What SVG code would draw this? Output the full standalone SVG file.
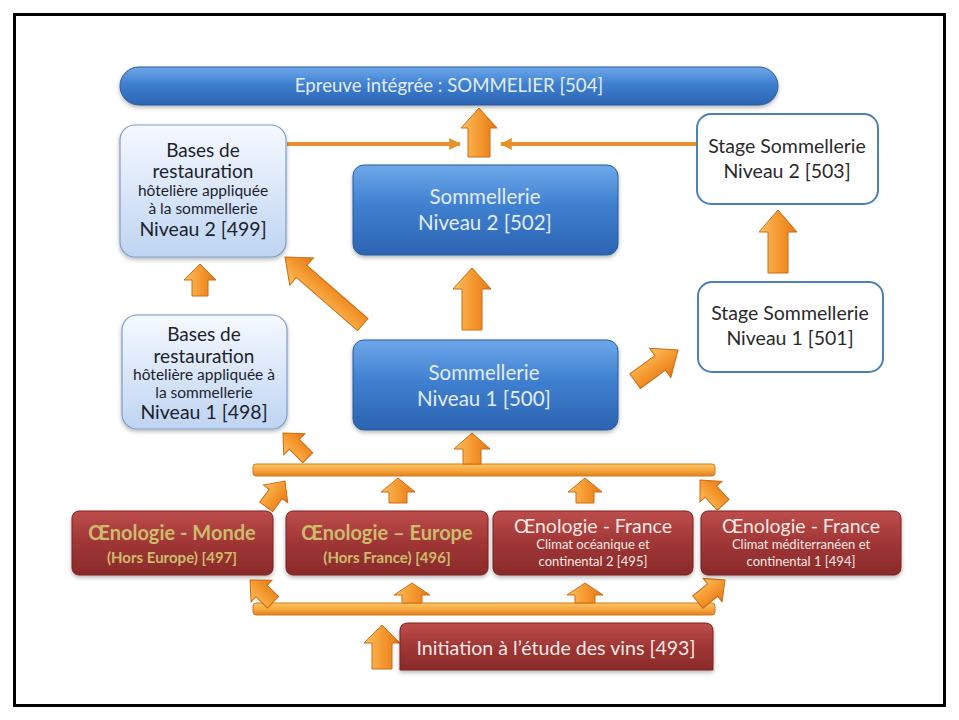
<svg xmlns="http://www.w3.org/2000/svg" width="959" height="720" viewBox="0 0 959 720">
<style>
text{font-family:Lato,"Open Sans","Noto Sans",sans-serif;text-anchor:middle}
.blue{fill:url(#gBlue);stroke:#2b5b9c;stroke-width:1;filter:url(#sh)}
.light{fill:url(#gLight);stroke:#7f9dc8;stroke-width:1.2;filter:url(#sh)}
.white{fill:#fff;stroke:#4d7fb8;stroke-width:2}
.red{fill:url(#gRed);stroke:#7b2323;stroke-width:1;filter:url(#sh)}
.arr{fill:url(#gOr);stroke:#cf6a12;stroke-width:1}
.bar{fill:url(#gBar);stroke:#cf7a1c;stroke-width:1}
.line{stroke:#e8902c;stroke-width:4;fill:none}
.tb{fill:#e2ecf8}
.td{fill:#1d1f2c}
.tw{fill:#2a2a2a}
.tr{fill:#f4e8e2}
.tk{fill:#cdbb6c}
</style>
<defs>
<linearGradient id="gBlue" x1="0" y1="0" x2="0" y2="1"><stop offset="0" stop-color="#6ea8ea"/><stop offset="0.45" stop-color="#3f80d0"/><stop offset="1" stop-color="#2c64b2"/></linearGradient>
<linearGradient id="gLight" x1="0" y1="0" x2="0" y2="1"><stop offset="0" stop-color="#f6f9ff"/><stop offset="1" stop-color="#bed4f2"/></linearGradient>
<linearGradient id="gRed" x1="0" y1="0" x2="0" y2="1"><stop offset="0" stop-color="#bd4d4b"/><stop offset="0.5" stop-color="#a03636"/><stop offset="1" stop-color="#8a2a2a"/></linearGradient>
<linearGradient id="gOr" x1="0" y1="0" x2="1" y2="0"><stop offset="0" stop-color="#fbc060"/><stop offset="0.5" stop-color="#f59a30"/><stop offset="1" stop-color="#e47818"/></linearGradient>
<linearGradient id="gBar" x1="0" y1="0" x2="0" y2="1"><stop offset="0" stop-color="#fbc764"/><stop offset="0.6" stop-color="#f4a23a"/><stop offset="1" stop-color="#e2801e"/></linearGradient>
<filter id="sh" x="-10%" y="-10%" width="120%" height="130%"><feDropShadow dx="0" dy="2" stdDeviation="2" flood-color="#000" flood-opacity="0.3"/></filter>
<marker id="ah" viewBox="0 0 10 10" refX="9" refY="5" markerWidth="3" markerHeight="3" orient="auto"><path d="M0,0 L10,5 L0,10 Z" fill="#e8902c"/></marker>
</defs>
<rect x="0" y="0" width="959" height="720" fill="#fff"/>
<rect x="14.5" y="14.5" width="930" height="691" fill="none" stroke="#000" stroke-width="3"/>

<g id="connectors">
<line class="line" x1="287" y1="144" x2="460" y2="144" marker-end="url(#ah)"/>
<line class="line" x1="697" y1="144" x2="501" y2="144" marker-end="url(#ah)"/>
<rect class="bar" x="253" y="464" width="462" height="12" rx="3"/>
<rect class="bar" x="253" y="603" width="462" height="12" rx="3"/>
<path class="arr" transform="translate(479,108)" d="M0,0 L18,20 L11,20 L11,49 L-11,49 L-11,20 L-18,20 Z"/>
<path class="arr" transform="translate(472,268)" d="M0,0 L19,21 L10,21 L10,62 L-10,62 L-10,21 L-19,21 Z"/>
<path class="arr" transform="translate(285,257) rotate(-49)" d="M0,0 L18,22 L8,22 L8,103 L-8,103 L-8,22 L-18,22 Z"/>
<path class="arr" transform="translate(200,264)" d="M0,0 L16,16 L8,16 L8,32 L-8,32 L-8,16 L-16,16 Z"/>
<path class="arr" transform="translate(778,210)" d="M0,0 L19,22 L10,22 L10,63 L-10,63 L-10,22 L-19,22 Z"/>
<path class="arr" transform="translate(678,350) rotate(54)" d="M0,0 L18,22 L9,22 L9,53 L-9,53 L-9,22 L-18,22 Z"/>
<path class="arr" transform="translate(472,433)" d="M0,0 L18,16 L9,16 L9,31 L-9,31 L-9,16 L-18,16 Z"/>
<path class="arr" transform="translate(283,433) rotate(-45)" d="M0,0 L15,16 L7,16 L7,35 L-7,35 L-7,16 L-15,16 Z"/>
<path class="arr" transform="translate(285,481) rotate(36)" d="M0,0 L15,16 L8,16 L8,32 L-8,32 L-8,16 L-15,16 Z"/>
<path class="arr" transform="translate(398,478)" d="M0,0 L17,14 L9,14 L9,25 L-9,25 L-9,14 L-17,14 Z"/>
<path class="arr" transform="translate(585,478)" d="M0,0 L17,14 L9,14 L9,25 L-9,25 L-9,14 L-17,14 Z"/>
<path class="arr" transform="translate(700,480) rotate(-43)" d="M0,0 L15,16 L8,16 L8,34 L-8,34 L-8,16 L-15,16 Z"/>
<path class="arr" transform="translate(250,580) rotate(-46)" d="M0,0 L15,16 L8,16 L8,32 L-8,32 L-8,16 L-15,16 Z"/>
<path class="arr" transform="translate(412,583)" d="M0,0 L18,12 L10,12 L10,20 L-10,20 L-10,12 L-18,12 Z"/>
<path class="arr" transform="translate(585,583)" d="M0,0 L18,12 L10,12 L10,20 L-10,20 L-10,12 L-18,12 Z"/>
<path class="arr" transform="translate(725,580) rotate(51)" d="M0,0 L15,16 L8,16 L8,35 L-8,35 L-8,16 L-15,16 Z"/>
<path class="arr" transform="translate(382,625)" d="M0,0 L18,18 L10,18 L10,44 L-10,44 L-10,18 L-18,18 Z"/>
</g>

<g id="n504">
<rect class="blue" x="120" y="67" width="658" height="38" rx="19"/>
<text class="tb" x="449" y="92" font-size="18.6">Epreuve intégrée : SOMMELIER [504]</text>
</g>

<g id="n499">
<rect class="light" x="120" y="125" width="166" height="132" rx="15"/>
<text class="td" x="203" y="157" font-size="19">Bases de</text>
<text class="td" x="203" y="178" font-size="19">restauration</text>
<text class="td" x="203" y="196" font-size="15.5">hôtelière appliquée</text>
<text class="td" x="203" y="214" font-size="15.5">à la sommellerie</text>
<text class="td" x="203" y="236" font-size="19.5">Niveau 2 [499]</text>
</g>

<g id="n502">
<rect class="blue" x="353" y="165" width="265" height="90" rx="11"/>
<text class="tb" x="485" y="204" font-size="20.5">Sommellerie</text>
<text class="tb" x="485" y="230" font-size="20.5">Niveau 2 [502]</text>
</g>

<g id="n503">
<rect class="white" x="697" y="114" width="181" height="90" rx="14"/>
<text class="tw" x="787" y="153" font-size="19.5">Stage Sommellerie</text>
<text class="tw" x="787" y="178" font-size="19.5">Niveau 2 [503]</text>
</g>

<g id="n501">
<rect class="white" x="698" y="282" width="185" height="90" rx="14"/>
<text class="tw" x="790" y="320" font-size="19.5">Stage Sommellerie</text>
<text class="tw" x="790" y="345" font-size="19.5">Niveau 1 [501]</text>
</g>

<g id="n498">
<rect class="light" x="122" y="315" width="165" height="114" rx="15"/>
<text class="td" x="204" y="341" font-size="19">Bases de</text>
<text class="td" x="204" y="363" font-size="19">restauration</text>
<text class="td" x="204" y="380" font-size="15.5">hôtelière appliquée à</text>
<text class="td" x="204" y="398" font-size="15.5">la sommellerie</text>
<text class="td" x="204" y="419" font-size="19.5">Niveau 1 [498]</text>
</g>

<g id="n500">
<rect class="blue" x="353" y="340" width="265" height="90" rx="11"/>
<text class="tb" x="484" y="380" font-size="20.5">Sommellerie</text>
<text class="tb" x="484" y="406" font-size="20.5">Niveau 1 [500]</text>
</g>

<g id="n497">
<rect class="red" x="72" y="511" width="201" height="64" rx="7"/>
<text class="tk" x="172" y="540" font-size="20" font-weight="bold">Œnologie - Monde</text>
<text class="tk" x="172" y="563" font-size="15" font-weight="bold">(Hors Europe) [497]</text>
</g>

<g id="n496">
<rect class="red" x="286" y="511" width="202" height="64" rx="7"/>
<text class="tk" x="387" y="540" font-size="20" font-weight="bold">Œnologie – Europe</text>
<text class="tk" x="387" y="563" font-size="15" font-weight="bold">(Hors France) [496]</text>
</g>

<g id="n495">
<rect class="red" x="493" y="511" width="200" height="64" rx="7"/>
<text class="tr" x="593" y="533" font-size="19.5">Œnologie - France</text>
<text class="tr" x="593" y="549" font-size="13">Climat océanique et</text>
<text class="tr" x="593" y="566" font-size="13">continental 2 [495]</text>
</g>

<g id="n494">
<rect class="red" x="701" y="511" width="200" height="64" rx="7"/>
<text class="tr" x="801" y="533" font-size="19.5">Œnologie - France</text>
<text class="tr" x="801" y="549" font-size="13">Climat méditerranéen  et</text>
<text class="tr" x="801" y="566" font-size="13">continental 1 [494]</text>
</g>

<g id="n493">
<path class="red" d="M408,623 H705 Q713,623 713,631 V670 H400 V631 Q400,623 408,623 Z"/>
<text class="tr" x="556" y="655" font-size="19.6">Initiation à l’étude des vins [493]</text>
</g>
</svg>
